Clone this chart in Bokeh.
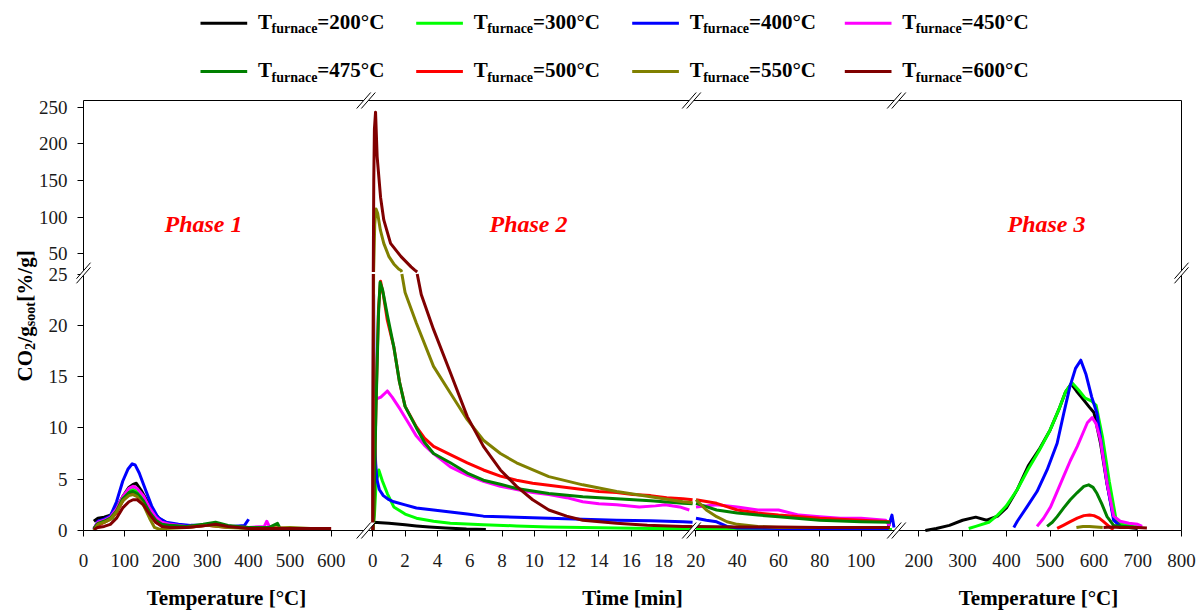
import math
import numpy as np
from bokeh.plotting import figure
from bokeh.models import Range1d, FixedTicker, Label, PolyAnnotation
from bokeh.embed import file_html
from bokeh.resources import INLINE

# ------------------------------------------------------------------ data
furnace_temps = [200, 300, 400, 450, 475, 500, 550, 600]
series_colors = ["#000000", "#00ff00", "#0000ff", "#ff00ff",
                 "#008000", "#ff0000", "#808000", "#800000"]

ph1_ticks = [0, 100, 200, 300, 400, 500, 600]
ph2a_ticks = [0, 2, 4, 6, 8, 10, 12, 14, 16, 18, 20]
ph2b_ticks = [20, 40, 60, 80, 100]
ph3_ticks = [200, 300, 400, 500, 600, 700, 800]
y_low_ticks = [0, 5, 10, 15, 20, 25]
y_high_ticks = [50, 100, 150, 200, 250]

# Phase 1 : temperature [°C] -> CO2/g_soot [%/g]
ph1_200_T = [25, 35, 50, 65, 80, 95, 110, 120, 128, 140, 155, 170, 185, 200]
ph1_200_v = [0.9, 1.2, 1.3, 1.5, 2.2, 3.3, 4.2, 4.5, 4.6, 3.9, 2.8, 1.8, 1.1, 0.8]
ph1_300_T = [28, 40, 55, 70, 85, 100, 112, 120, 130, 145, 160, 175, 190, 210, 240, 270, 300]
ph1_300_v = [0.2, 0.7, 0.9, 1.2, 2.2, 3.2, 3.9, 4.0, 3.8, 3.1, 2.0, 1.1, 0.7, 0.5, 0.4, 0.4, 0.6]
ph1_400_T = [25, 35, 50, 65, 80, 95, 108, 118, 125, 135, 150, 165, 180, 200, 230, 260, 300, 330, 360, 390, 400]
ph1_400_v = [0.1, 0.9, 1.1, 1.4, 2.8, 4.8, 6.0, 6.5, 6.4, 5.6, 4.0, 2.4, 1.3, 0.8, 0.6, 0.5, 0.5, 0.5, 0.4, 0.5, 1.1]
ph1_450_T = [25, 35, 50, 65, 80, 95, 110, 120, 130, 145, 160, 175, 190, 210, 250, 300, 350, 400, 438, 444, 450]
ph1_450_v = [0.2, 0.8, 1.0, 1.3, 2.1, 3.3, 4.1, 4.3, 4.1, 3.4, 2.2, 1.3, 0.8, 0.6, 0.4, 0.5, 0.4, 0.3, 0.4, 0.9, 0.4]
ph1_475_T = [25, 35, 50, 65, 80, 95, 110, 120, 130, 145, 160, 175, 190, 210, 250, 290, 320, 350, 400, 450, 470, 475]
ph1_475_v = [0.2, 0.7, 0.9, 1.2, 1.9, 3.1, 3.7, 3.8, 3.6, 2.9, 1.8, 1.0, 0.6, 0.5, 0.4, 0.6, 0.8, 0.5, 0.3, 0.3, 0.7, 0.3]
ph1_500_T = [25, 35, 50, 65, 80, 95, 110, 120, 130, 145, 160, 175, 190, 210, 250, 300, 350, 400, 450, 500]
ph1_500_v = [0.1, 0.5, 0.8, 1.1, 1.7, 2.9, 3.5, 3.6, 3.4, 2.7, 1.6, 0.8, 0.5, 0.4, 0.3, 0.5, 0.3, 0.3, 0.3, 0.2]
ph1_550_T = [25, 35, 50, 65, 80, 95, 110, 120, 130, 145, 160, 172, 185, 200, 250, 300, 350, 400, 450, 500, 550]
ph1_550_v = [0.0, 0.6, 0.8, 1.1, 1.8, 2.9, 3.4, 3.5, 3.3, 2.5, 1.2, 0.3, 0.1, 0.2, 0.3, 0.5, 0.3, 0.2, 0.2, 0.3, 0.2]
ph1_600_T = [25, 35, 50, 65, 80, 95, 110, 120, 130, 145, 160, 175, 190, 210, 250, 300, 320, 350, 400, 450, 500, 550, 600]
ph1_600_v = [0.1, 0.3, 0.4, 0.6, 1.2, 2.2, 2.8, 3.0, 3.0, 2.5, 1.6, 0.8, 0.4, 0.3, 0.3, 0.5, 0.6, 0.4, 0.2, 0.2, 0.2, 0.2, 0.2]

# Phase 2 (first 20 min) : time [min] -> CO2/g_soot [%/g]
ph2a_200_t = [0.0, 0.05, 0.5, 1.0, 2.0, 2.7, 3.5, 4.5, 5.8, 7.0]
ph2a_200_v = [0.0, 0.8, 0.75, 0.7, 0.55, 0.45, 0.35, 0.25, 0.15, 0.1]
ph2a_300_t = [0.0, 0.1, 0.2, 0.37, 0.6, 0.9, 1.3, 2.0, 2.7, 3.76, 4.8, 6.85, 8.9, 10.9, 13.0, 15.1, 17.2, 19.2, 19.8]
ph2a_300_v = [0.0, 1.5, 4.5, 5.9, 4.8, 3.6, 2.3, 1.6, 1.2, 0.9, 0.7, 0.55, 0.45, 0.35, 0.3, 0.25, 0.2, 0.2, 0.2]
ph2a_400_t = [0.0, 0.05, 0.08, 0.12, 0.18, 0.25, 0.4, 0.65, 1.0, 1.3, 2.0, 2.7, 3.76, 4.8, 5.85, 6.85, 8.9, 10.9, 13.0, 15.1, 17.2, 19.2, 19.8]
ph2a_400_v = [0.0, 23.0, 12.0, 8.5, 6.5, 5.0, 4.0, 3.4, 3.0, 2.8, 2.5, 2.2, 2.0, 1.8, 1.6, 1.4, 1.3, 1.2, 1.1, 1.0, 0.95, 0.85, 0.8]
ph2a_450_t = [0.0, 0.05, 0.2, 0.5, 0.9, 1.2, 1.7, 2.2, 2.7, 3.2, 3.76, 4.8, 5.85, 6.85, 7.9, 8.9, 9.9, 10.9, 12.0, 13.0, 14.0, 15.1, 16.5, 17.5, 18.1, 19.0, 19.6]
ph2a_450_v = [0.0, 12.8, 12.8, 13.0, 13.6, 13.0, 11.8, 10.5, 9.2, 8.3, 7.5, 6.2, 5.4, 4.8, 4.3, 4.0, 3.7, 3.5, 3.2, 2.8, 2.6, 2.5, 2.3, 2.4, 2.5, 2.3, 2.0]
ph2a_475_t = [0.0, 0.05, 0.2, 0.35, 0.45, 0.6, 0.9, 1.3, 1.65, 2.0, 2.7, 3.2, 3.76, 4.8, 5.85, 6.85, 7.9, 8.9, 10.9, 13.0, 15.1, 17.2, 19.2, 19.8]
ph2a_475_v = [0.0, 1.0, 12.0, 21.0, 24.2, 23.5, 21.0, 17.9, 14.5, 12.1, 10.0, 8.6, 7.5, 6.6, 5.6, 4.9, 4.5, 4.1, 3.6, 3.3, 3.1, 2.9, 2.65, 2.6]
ph2a_500_t = [0.0, 0.05, 0.2, 0.35, 0.48, 0.65, 0.9, 1.3, 1.65, 2.0, 2.7, 3.2, 3.76, 4.8, 5.85, 6.85, 7.9, 8.9, 9.9, 10.9, 12.0, 13.0, 14.0, 15.1, 16.1, 17.2, 18.2, 19.2, 19.8]
ph2a_500_v = [0.0, 1.0, 12.5, 21.5, 24.3, 23.0, 20.5, 17.9, 14.5, 12.1, 10.1, 9.0, 8.2, 7.4, 6.6, 5.9, 5.3, 4.9, 4.6, 4.4, 4.2, 4.0, 3.8, 3.7, 3.5, 3.4, 3.2, 3.1, 3.0]
ph2a_550_t = [0.0, 0.05, 0.12, 0.2, 0.3, 0.47, 0.68, 1.0, 1.3, 1.6, 1.75, 1.8, 2.0, 2.7, 3.76, 4.8, 5.85, 6.85, 7.9, 8.9, 10.9, 13.0, 15.1, 17.2, 19.2, 19.8]
ph2a_550_v = [0.0, 25.0, 90.0, 111.0, 105.0, 82.0, 64.0, 46.0, 36.0, 29.0, 27.0, 25.0, 23.2, 20.2, 16.0, 13.4, 10.8, 8.8, 7.5, 6.6, 5.25, 4.45, 3.8, 3.3, 2.8, 2.7]
ph2a_600_t = [0.0, 0.03, 0.06, 0.1, 0.17, 0.27, 0.48, 0.68, 1.1, 1.75, 2.37, 2.6, 2.75, 3.0, 3.76, 4.8, 5.85, 6.85, 7.9, 8.9, 9.9, 10.9, 12.0, 13.0, 15.1, 17.0, 19.2, 19.8]
ph2a_600_v = [0.0, 25.0, 150.0, 220.0, 243.0, 182.0, 127.0, 96.0, 64.0, 46.0, 32.0, 27.5, 25.0, 23.0, 19.6, 15.4, 11.1, 8.2, 5.9, 4.3, 3.0, 2.0, 1.4, 1.0, 0.7, 0.5, 0.4, 0.4]

# Phase 2 (20 min and later) : time [min] -> CO2/g_soot [%/g]
ph2b_300_t = [20, 40, 60, 80, 100, 115]
ph2b_300_v = [0.2, 0.15, 0.1, 0.1, 0.1, 0.1]
ph2b_400_t = [20, 25, 30, 35, 40, 60, 80, 100, 113, 115, 116]
ph2b_400_v = [1.2, 1.0, 0.85, 0.4, 0.25, 0.2, 0.2, 0.2, 0.2, 1.5, 0.3]
ph2b_450_t = [20, 30, 40, 50, 60, 70, 80, 90, 100, 112, 114]
ph2b_450_v = [2.3, 2.5, 2.3, 2.0, 2.0, 1.5, 1.35, 1.2, 1.2, 1.0, 0.4]
ph2b_475_t = [20, 30, 40, 50, 60, 80, 100, 114]
ph2b_475_v = [2.65, 2.0, 1.7, 1.5, 1.35, 1.0, 0.85, 0.8]
ph2b_500_t = [20, 30, 40, 50, 60, 80, 100, 114]
ph2b_500_v = [3.0, 2.65, 2.0, 1.7, 1.5, 1.2, 1.0, 0.85]
ph2b_550_t = [20, 25, 30, 35, 40, 50, 60, 80, 100, 114]
ph2b_550_v = [3.0, 2.0, 1.35, 0.85, 0.6, 0.4, 0.3, 0.3, 0.3, 0.3]
ph2b_600_t = [20, 40, 60, 80, 100, 114]
ph2b_600_v = [0.4, 0.35, 0.35, 0.3, 0.3, 0.3]

# Phase 3 : temperature [°C] -> CO2/g_soot [%/g]
ph3_200_T = [215, 240, 270, 300, 330, 355, 380, 400, 425, 450, 475, 500, 520, 535, 548, 560, 575, 590, 600, 615, 630, 645, 660, 680, 700]
ph3_200_v = [0.0, 0.2, 0.5, 1.0, 1.3, 1.0, 1.4, 2.2, 4.0, 6.3, 7.9, 9.8, 11.8, 13.5, 14.3, 13.6, 12.8, 12.0, 11.5, 8.5, 4.5, 1.3, 0.5, 0.3, 0.2]
ph3_300_T = [314, 330, 360, 380, 400, 425, 450, 475, 500, 520, 535, 550, 565, 580, 595, 605, 620, 635, 650, 665, 690, 710]
ph3_300_v = [0.2, 0.4, 0.8, 1.5, 2.4, 4.0, 6.0, 7.8, 9.8, 11.8, 13.5, 14.4, 13.7, 12.9, 12.6, 12.2, 9.0, 4.8, 1.2, 0.6, 0.4, 0.3]
ph3_400_T = [417, 425, 447, 470, 493, 516, 531, 545, 558, 570, 582, 595, 607, 620, 630, 645, 660, 680]
ph3_400_v = [0.3, 0.9, 2.3, 3.8, 5.9, 8.5, 11.4, 14.0, 15.8, 16.6, 15.2, 13.0, 11.4, 7.5, 4.6, 1.0, 0.4, 0.3]
ph3_450_T = [470, 485, 501, 515, 531, 546, 562, 575, 585, 596, 605, 615, 630, 645, 660, 680, 700, 710]
ph3_450_v = [0.4, 1.2, 2.3, 3.7, 5.3, 6.8, 8.2, 9.5, 10.5, 11.0, 10.4, 8.8, 4.6, 1.4, 0.9, 0.7, 0.6, 0.4]
ph3_475_T = [493, 505, 516, 531, 546, 562, 577, 588, 598, 607, 618, 630, 645, 670, 700]
ph3_475_v = [0.4, 0.8, 1.35, 2.2, 3.0, 3.7, 4.3, 4.45, 4.2, 3.6, 2.6, 1.35, 0.5, 0.4, 0.3]
ph3_500_T = [516, 530, 546, 562, 577, 590, 600, 612, 622, 637, 645]
ph3_500_v = [0.2, 0.5, 0.86, 1.2, 1.45, 1.5, 1.45, 1.2, 0.86, 0.3, 0.1]
ph3_550_T = [560, 575, 590, 605, 620]
ph3_550_v = [0.3, 0.4, 0.4, 0.35, 0.3]
ph3_600_T = [622, 640, 660, 680, 700, 721]
ph3_600_v = [0.3, 0.35, 0.3, 0.3, 0.3, 0.25]

phase1 = {200: (ph1_200_T, ph1_200_v), 300: (ph1_300_T, ph1_300_v), 400: (ph1_400_T, ph1_400_v),
          450: (ph1_450_T, ph1_450_v), 475: (ph1_475_T, ph1_475_v), 500: (ph1_500_T, ph1_500_v),
          550: (ph1_550_T, ph1_550_v), 600: (ph1_600_T, ph1_600_v)}
phase2a = {200: (ph2a_200_t, ph2a_200_v), 300: (ph2a_300_t, ph2a_300_v), 400: (ph2a_400_t, ph2a_400_v),
           450: (ph2a_450_t, ph2a_450_v), 475: (ph2a_475_t, ph2a_475_v), 500: (ph2a_500_t, ph2a_500_v),
           550: (ph2a_550_t, ph2a_550_v), 600: (ph2a_600_t, ph2a_600_v)}
phase2b = {300: (ph2b_300_t, ph2b_300_v), 400: (ph2b_400_t, ph2b_400_v), 450: (ph2b_450_t, ph2b_450_v),
           475: (ph2b_475_t, ph2b_475_v), 500: (ph2b_500_t, ph2b_500_v), 550: (ph2b_550_t, ph2b_550_v),
           600: (ph2b_600_t, ph2b_600_v)}
phase3 = {200: (ph3_200_T, ph3_200_v), 300: (ph3_300_T, ph3_300_v), 400: (ph3_400_T, ph3_400_v),
          450: (ph3_450_T, ph3_450_v), 475: (ph3_475_T, ph3_475_v), 500: (ph3_500_T, ph3_500_v),
          550: (ph3_550_T, ph3_550_v), 600: (ph3_600_T, ph3_600_v)}

# ------------------------------------------------------------------ layout
IMG_W, IMG_H = 1203, 612
FL, FR, FT, FB = 83, 1181, 100, 530          # plot-box edges (page pixels)
FONT = "Liberation Serif"
BREAK_Y = 25.0

# segment anchors: (value, page pixel of that value, pixels per unit)
X_SEG = {"p1": (0.0, 83.0, 0.41283), "p2a": (0.0, 372.3, 16.15),
         "p2b": (20.0, 695.5, 2.0625), "p3": (200.0, 918.3, 0.43783)}
Y_SEG = {"lo": (0.0, 530.0, 10.26), "hi": (25.0, 271.5, 0.7333)}
X_BREAKS = [365.5, 691.0, 896.0]
Y_BREAK_PX = 272.5


def x_range(seg):
    v0, px0, k = X_SEG[seg]
    return Range1d(start=v0 - px0 / k, end=v0 + (IMG_W - px0) / k)


def y_range(seg):
    v0, py0, k = Y_SEG[seg]
    return Range1d(start=v0 - (IMG_H - py0) / k, end=v0 + py0 / k)


def x_pos(seg, v):
    v0, px0, k = X_SEG[seg]
    return px0 + (v - v0) * k


def y_pos(seg, v):
    v0, py0, k = Y_SEG[seg]
    return IMG_H - (py0 - (v - v0) * k)


p = figure(width=IMG_W, height=IMG_H,
           x_range=Range1d(0, IMG_W), y_range=Range1d(0, IMG_H),
           output_backend="svg", toolbar_location=None,
           min_border_left=0, min_border_right=0, min_border_top=0, min_border_bottom=0)
p.extra_x_ranges = {s: x_range(s) for s in X_SEG}
p.extra_y_ranges = {s: y_range(s) for s in Y_SEG}
p.grid.visible = False
p.outline_line_color = None
p.background_fill_color = "white"
p.border_fill_color = "white"

# ---- axes (one physical axis each, ticks taken from each segment's scale)
x_labels = {}
for seg, ticks in [("p1", ph1_ticks), ("p2a", ph2a_ticks), ("p2b", ph2b_ticks), ("p3", ph3_ticks)]:
    for t in ticks:
        pos = round(x_pos(seg, t), 1)
        if any(abs(pos - q) < 4 for q in x_labels):
            continue
        x_labels[pos] = str(t)
y_labels = {}
for t in y_low_ticks:
    y_labels[round(y_pos("lo", t), 1)] = str(t)
for t in y_high_ticks:
    y_labels[round(y_pos("hi", t), 1)] = str(t)

xa = p.xaxis[0]
ya = p.yaxis[0]
xa.fixed_location = IMG_H - FB
ya.fixed_location = FL
xa.bounds = (FL, FR)
ya.bounds = (IMG_H - FB, IMG_H - FT)
for ax, labels, standoff in [(xa, x_labels, 17), (ya, y_labels, 10)]:
    ax.ticker = FixedTicker(ticks=sorted(labels), minor_ticks=[])
    ax.major_label_overrides = labels
    ax.major_tick_in = 0
    ax.major_tick_out = 6
    ax.minor_tick_in = 0
    ax.minor_tick_out = 0
    ax.axis_line_color = "black"
    ax.major_tick_line_color = "black"
    ax.major_label_text_font = FONT
    ax.major_label_text_font_size = "19px"
    ax.major_label_text_color = "#1a1a1a"
    ax.major_label_standoff = standoff

# ---- data lines
LW = 3.0
draw_order = [200, 300, 400, 450, 500, 475, 550, 600]
color_of = dict(zip(furnace_temps, series_colors))


def draw(xs, ys, xseg, color):
    x = np.asarray(xs, dtype=float)
    y = np.asarray(ys, dtype=float)
    lo = np.where(y <= BREAK_Y, y, np.nan)
    p.line(x, lo, x_range_name=xseg, y_range_name="lo",
           line_color=color, line_width=LW, line_join="round")
    if (y > BREAK_Y).any():
        hi = np.where(y >= BREAK_Y, y, np.nan)
        p.line(x, hi, x_range_name=xseg, y_range_name="hi",
               line_color=color, line_width=LW, line_join="round")


for temp in draw_order:
    c = color_of[temp]
    for seg, data in [("p1", phase1), ("p2a", phase2a), ("p2b", phase2b), ("p3", phase3)]:
        if temp in data:
            draw(data[temp][0], data[temp][1], seg, c)


# ---- plot box (top / right sides) and axis-break marks
def seg_line(x0, y0, x1, y1, color="black", width=1.0):
    p.add_layout(PolyAnnotation(xs=[x0, x1], ys=[y0, y1], fill_alpha=0.0,
                                line_color=color, line_width=width, line_alpha=1.0))


seg_line(FL, IMG_H - FT, FR, IMG_H - FT)
seg_line(FR, IMG_H - FT, FR, IMG_H - FB)


def break_mark(cx, cy, horizontal):
    dx, dy, off = 7.0, 8.0, 2.3
    if horizontal:
        c1, c2 = (cx - off, cy), (cx + off, cy)
    else:
        c1, c2 = (cx, cy - off), (cx, cy + off)
    p.add_layout(PolyAnnotation(
        xs=[c1[0] - dx, c1[0] + dx, c2[0] + dx, c2[0] - dx],
        ys=[c1[1] - dy, c1[1] + dy, c2[1] + dy, c2[1] - dy],
        fill_color="white", fill_alpha=1.0, line_alpha=0.0))
    for c in (c1, c2):
        seg_line(c[0] - dx, c[1] - dy, c[0] + dx, c[1] + dy)


for bx in X_BREAKS:
    break_mark(bx, IMG_H - FT, True)
    break_mark(bx, IMG_H - FB, True)
break_mark(FL, IMG_H - Y_BREAK_PX, False)
break_mark(FR, IMG_H - Y_BREAK_PX, False)

# ---- phase captions
for txt, cx in [("Phase 1", 203), ("Phase 2", 528), ("Phase 3", 1046)]:
    p.add_layout(Label(x=cx, y=IMG_H - 223, text=txt, text_align="center",
                       text_baseline="middle", text_font=FONT, text_font_size="24px",
                       text_font_style="bold italic", text_color="#ff0000"))

# ---- axis titles
for txt, cx in [("Temperature [°C]", 226), ("Time [min]", 632), ("Temperature [°C]", 1038)]:
    p.add_layout(Label(x=cx, y=IMG_H - 597, text=txt, text_align="center",
                       text_baseline="middle", text_font=FONT, text_font_size="21px",
                       text_font_style="bold", text_color="black"))

# y title: CO2/g_soot [%/g] (rotated, built from pieces)
y_pieces = [("CO", False, 31.5), ("2", True, 7.5), ("/g", False, 16.3),
            ("soot", True, 24.5), (" [%/g]", False, 56.6)]
ypos_run = IMG_H - 381
for txt, sub, w in y_pieces:
    p.add_layout(Label(x=29.5 if sub else 24, y=ypos_run, text=txt, angle=math.pi / 2,
                       text_align="left", text_baseline="middle", text_font=FONT,
                       text_font_size="14px" if sub else "21px", text_font_style="bold",
                       text_color="black"))
    ypos_run += w

# ---- legend (2 rows x 4 columns)
leg_cols = [200.0, 415.7, 631.7, 844.3]
leg_rows = [22.7, 71.0]
for i, temp in enumerate(furnace_temps):
    lx = leg_cols[i % 4]
    ly = leg_rows[i // 4]
    seg_line(lx, IMG_H - ly, lx + 46.7, IMG_H - ly, color=color_of[temp], width=3)
    p.add_layout(Label(x=lx + 57.5, y=IMG_H - (ly - 1.5), text="T", text_baseline="middle",
                       text_font=FONT, text_font_size="21px", text_font_style="bold",
                       text_color="black"))
    p.add_layout(Label(x=lx + 71.0, y=IMG_H - (ly + 5.5), text="furnace", text_baseline="middle",
                       text_font=FONT, text_font_size="14px", text_font_style="bold",
                       text_color="black"))
    p.add_layout(Label(x=lx + 116.8, y=IMG_H - (ly - 1.5), text=f"={temp}°C", text_baseline="middle",
                       text_font=FONT, text_font_size="21px", text_font_style="bold",
                       text_color="black"))

open("out.html", "w").write(file_html(p, INLINE))
